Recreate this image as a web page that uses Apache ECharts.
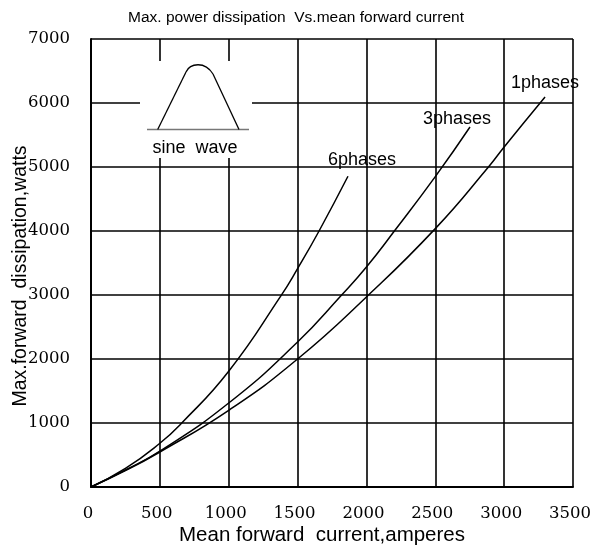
<!DOCTYPE html>
<html>
<head>
<meta charset="utf-8">
<script src="https://cdn.jsdelivr.net/npm/echarts@6/dist/echarts.min.js"></script>
<style>html,body{margin:0;padding:0;background:#fff}#c{width:591px;height:550px}</style>
</head>
<body>
<div id="c"></div>
<script>
// ---- data ----
const xTicks = [0, 500, 1000, 1500, 2000, 2500, 3000, 3500];
const yTicks = [0, 1000, 2000, 3000, 4000, 5000, 6000, 7000];

const current6 = [0, 250, 500, 659, 1000, 1380, 1500, 1656, 1866];
const power6   = [0, 290, 683, 1000, 1808, 2990, 3412, 4000, 4855];

const current3 = [0, 250, 500, 1000, 1500, 1820, 2000, 2203, 2500, 2752];
const power3   = [0, 265, 560, 1312, 2266, 3000, 3438, 4000, 4850, 5625];

const current1 = [0, 250, 500, 1000, 1500, 2000, 2500, 2886, 3000, 3297];
const power1   = [0, 255, 547, 1198, 2000, 2970, 4037, 5000, 5313, 6094];

const seriesNames = ['6phases', '3phases', '1phases'];
const labelOffsets = [[14, -2], [-13, 6], [0, 0]];

function buildData(xs, ys, idx) {
  return xs.map((x, i) => {
    if (i === xs.length - 1) {
      return {
        value: [x, ys[i]],
        label: {
          show: true, formatter: seriesNames[idx], position: 'top',
          offset: labelOffsets[idx], color: '#000',
          fontFamily: 'Liberation Sans, Arial, sans-serif', fontSize: 18
        }
      };
    }
    return [x, ys[i]];
  });
}

const lineStyle = { color: '#000', width: 1.5 };
const chart = echarts.init(document.getElementById('c'), null, { renderer: 'canvas' });

const allX = [current6, current3, current1];
const allY = [power6, power3, power1];

const inkStyle = { stroke: '#000', lineWidth: 1.3, fill: null };
const plain = v => String(v);

chart.setOption({
  animation: false,
  backgroundColor: '#fff',
  title: {
    text: 'Max. power dissipation  Vs.mean forward current',
    left: 123, top: 5,
    textStyle: { fontFamily: 'Liberation Sans, Arial, sans-serif', fontSize: 15.5, fontWeight: 'normal', color: '#000' }
  },
  grid: { left: 91, right: 18, top: 39, bottom: 63, containLabel: false, outerBoundsMode: 'none' },
  xAxis: {
    type: 'value', min: xTicks[0], max: xTicks[xTicks.length - 1], interval: 500,
    name: 'Mean forward  current,amperes', nameLocation: 'middle', nameGap: 38, nameMoveOverlap: false,
    nameTextStyle: { fontFamily: 'Liberation Sans, Arial, sans-serif', fontSize: 20.5, color: '#000', padding: [0, 20, 0, 0] },
    axisLine: { show: true, lineStyle: { color: '#000', width: 2 } },
    axisTick: { show: false },
    axisLabel: { margin: 18, color: '#000', fontFamily: 'DejaVu Serif, serif', fontSize: 16.5, formatter: plain, padding: [0, 6, 0, 0] },
    splitLine: { show: true, lineStyle: { color: '#000', width: 1.6 } }
  },
  yAxis: {
    type: 'value', min: yTicks[0], max: yTicks[yTicks.length - 1], interval: 1000,
    name: 'Max.forward  dissipation,watts', nameLocation: 'middle', nameGap: 60, nameMoveOverlap: false,
    nameTextStyle: { fontFamily: 'Liberation Sans, Arial, sans-serif', fontSize: 19.5, color: '#000', padding: [0, 26, 0, 0] },
    axisLine: { show: true, lineStyle: { color: '#000', width: 2 } },
    axisTick: { show: false },
    axisLabel: { margin: 21, color: '#000', fontFamily: 'DejaVu Serif, serif', fontSize: 16.5, formatter: plain },
    splitLine: { show: true, lineStyle: { color: '#000', width: 1.6 } }
  },
  graphic: [
    { type: 'rect', z: 10, shape: { x: 140, y: 61, width: 112, height: 97 }, style: { fill: '#fff' } },
    { type: 'line', z: 11, shape: { x1: 147, y1: 129.5, x2: 249, y2: 129.5 }, style: { stroke: '#777', lineWidth: 1.5 } },
    { type: 'line', z: 11, shape: { x1: 157.7, y1: 129.5, x2: 186, y2: 72 }, style: inkStyle },
    { type: 'bezierCurve', z: 11, shape: { x1: 186, y1: 72, cpx1: 190, cpy1: 63, cpx2: 205, cpy2: 61, x2: 213, y2: 74 }, style: inkStyle },
    { type: 'line', z: 11, shape: { x1: 213, y1: 74, x2: 239, y2: 129.5 }, style: inkStyle },
    { type: 'text', z: 11, x: 195, y: 148, style: { text: 'sine  wave', fill: '#000', font: '18px "Liberation Sans", Arial, sans-serif', align: 'center', verticalAlign: 'middle' } }
  ],
  series: allX.map((xs, i) => ({
    name: seriesNames[i], type: 'line', smooth: 0.5,
    showSymbol: true, symbol: 'circle', symbolSize: 0,
    lineStyle: lineStyle, itemStyle: { color: '#000' },
    z: 3,
    data: buildData(xs, allY[i], i)
  }))
});
</script>
</body>
</html>
